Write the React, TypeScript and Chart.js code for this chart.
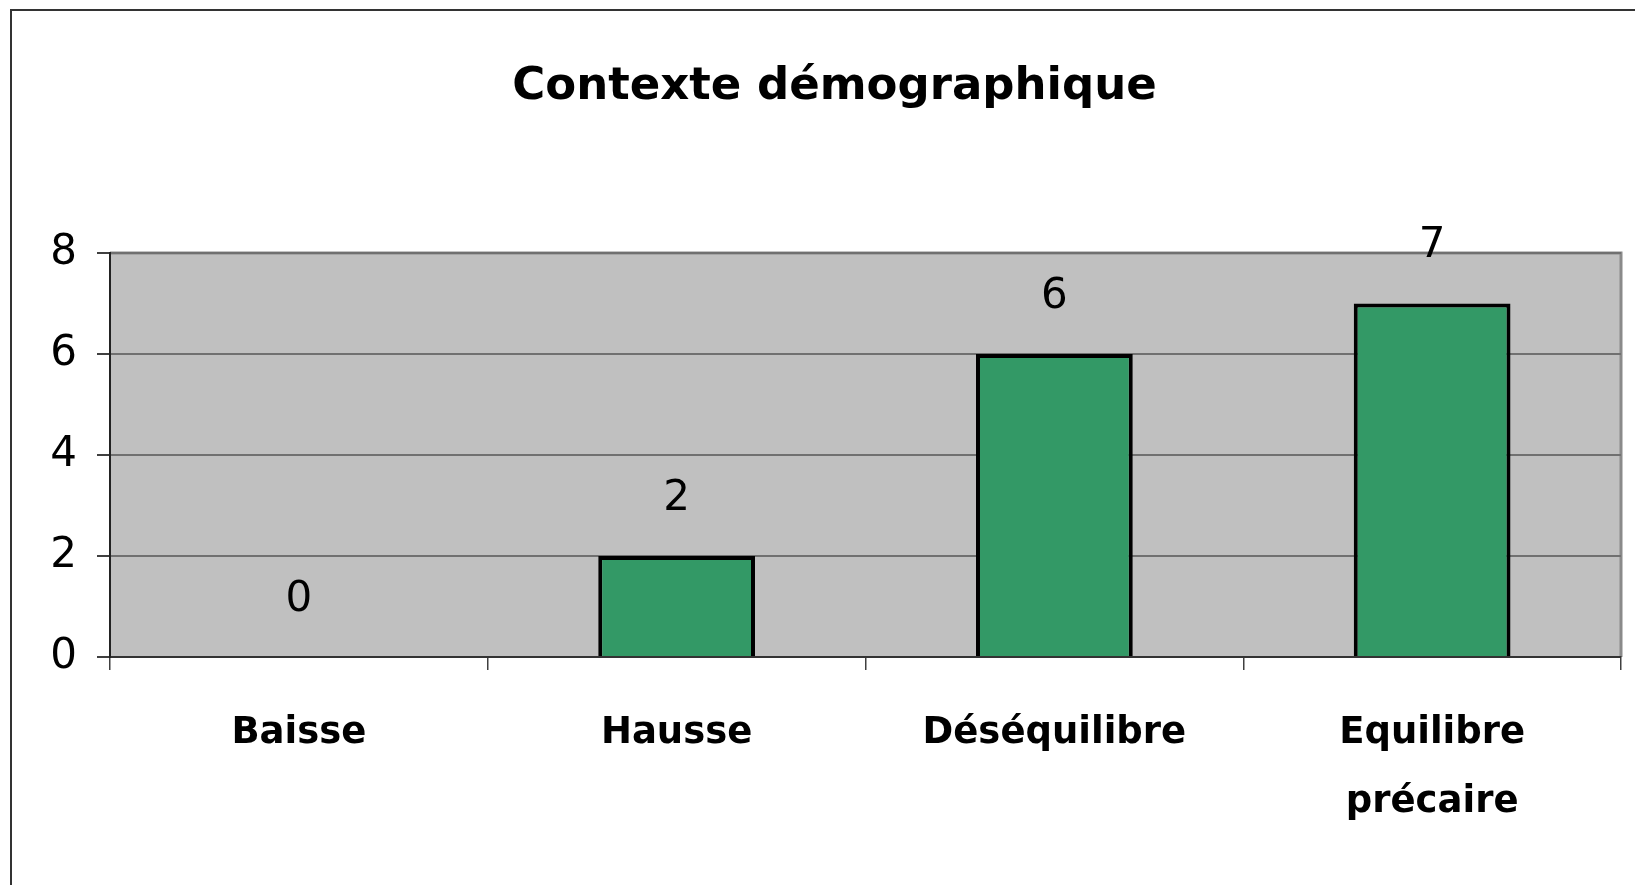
import React, { useEffect, useRef } from "react";
import { Chart, registerables } from "chart.js";

Chart.register(...registerables);

const TITLE = "Contexte démographique";
const categories: (string | string[])[] = ["Baisse", "Hausse", "Déséquilibre", ["Equilibre", "précaire"]];
const values = [0, 2, 6, 7];
const yMin = 0;
const yMax = 8;
const yStep = 2;

const FONT = "'DejaVu Sans', Verdana, sans-serif";

const plotBg = {
  id: "plotBg",
  beforeDraw(chart: any) {
    const { ctx, chartArea: a, width, height } = chart;
    ctx.save();
    ctx.fillStyle = "#ffffff";
    ctx.fillRect(0, 0, width, height);
    ctx.fillStyle = "#C0C0C0";
    ctx.fillRect(a.left, a.top, a.right - a.left, a.bottom - a.top);
    ctx.strokeStyle = "#8a8a8a";
    ctx.lineWidth = 3;
    ctx.beginPath();
    ctx.moveTo(a.left, a.top);
    ctx.lineTo(a.right, a.top);
    ctx.lineTo(a.right, a.bottom);
    ctx.stroke();
    // outer frame
    ctx.strokeStyle = "#333333";
    ctx.lineWidth = 2;
    ctx.beginPath();
    ctx.moveTo(11, height + 5);
    ctx.lineTo(11, 10);
    ctx.lineTo(width + 5, 10);
    ctx.stroke();
    ctx.restore();
  },
};

const valueLabels = {
  id: "valueLabels",
  afterDatasetsDraw(chart: any) {
    const { ctx } = chart;
    const meta = chart.getDatasetMeta(0);
    ctx.save();
    ctx.fillStyle = "#000";
    ctx.font = `42px ${FONT}`;
    ctx.textAlign = "center";
    ctx.textBaseline = "middle";
    meta.data.forEach((bar: any, i: number) => {
      ctx.fillText(String(values[i]), bar.x, bar.y - 57);
    });
    ctx.restore();
  },
};

export default function App() {
  const ref = useRef<HTMLCanvasElement>(null);
  useEffect(() => {
    if (!ref.current) return;
    const chart = new Chart(ref.current, {
      type: "bar",
      data: {
        labels: categories,
        datasets: [
          {
            data: values,
            backgroundColor: "#339966",
            borderColor: "#000000",
            borderWidth: 4,
            barPercentage: 0.415,
            categoryPercentage: 1,
          },
        ],
      },
      options: {
        responsive: false,
        animation: false,
        devicePixelRatio: 1,
        layout: { padding: { left: 48, right: 14, top: 0, bottom: 0 } },
        plugins: {
          legend: { display: false },
          tooltip: { enabled: false },
          title: {
            display: true,
            text: TITLE,
            color: "#000",
            font: { family: FONT, size: 45, weight: "bold", lineHeight: 1.2 },
            padding: { top: 60, bottom: 139 },
          },
        },
        scales: {
          x: {
            afterFit: (s: any) => {
              s.height = 228;
            },
            grid: {
              offset: true,
              drawOnChartArea: false,
              drawTicks: true,
              tickLength: 13,
              tickColor: "#404040",
              lineWidth: 1.5,
            },
            border: { color: "#333333", width: 2 },
            ticks: {
              color: "#000",
              padding: 28.5,
              font: { family: FONT, size: 37, weight: "bold", lineHeight: 1.865 },
              maxRotation: 0,
              autoSkip: false,
            },
          },
          y: {
            min: yMin,
            max: yMax,
            afterFit: (s: any) => {
              s.width = 62;
            },
            grid: {
              color: "#707070",
              lineWidth: 2,
              tickLength: 13,
              tickColor: "#404040",
            },
            border: { color: "#222222", width: 2 },
            ticks: {
              stepSize: yStep,
              color: "#000",
              padding: 20,
              font: { family: FONT, size: 42 },
            },
          },
        },
      },
      plugins: [plotBg, valueLabels],
    });
    return () => chart.destroy();
  }, []);
  return (
    <div style={{ position: "absolute", left: 0, top: 0, width: 1635, height: 885, overflow: "hidden" }}>
      <canvas ref={ref} width={1635} height={885} style={{ display: "block" }} />
    </div>
  );
}
